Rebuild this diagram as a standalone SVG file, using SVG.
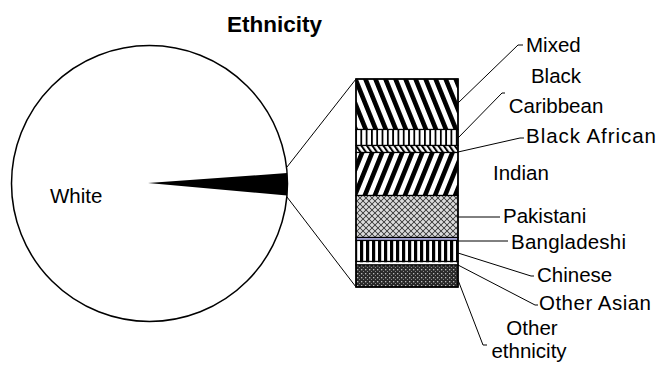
<svg xmlns="http://www.w3.org/2000/svg" width="660" height="367" viewBox="0 0 660 367">
<style>
text{font-family:"Liberation Sans",Arial,sans-serif;font-size:20.5px;fill:#000}
.title{font-weight:bold;font-size:22.5px}
.seg{stroke:#000;stroke-width:1.2}
.ld{fill:none;stroke:#000;stroke-width:1}
</style>
<defs>
<pattern id="pMixed" width="9.3" height="10" patternUnits="userSpaceOnUse" patternTransform="rotate(-22)">
<rect width="9.3" height="10" fill="#fff"/><rect x="0" width="4.6" height="10" fill="#000"/>
</pattern>
<pattern id="pIndian" width="9.3" height="10" patternUnits="userSpaceOnUse" patternTransform="rotate(22)">
<rect width="9.3" height="10" fill="#fff"/><rect x="0" width="4.6" height="10" fill="#000"/>
</pattern>
<pattern id="pBC" width="5.3" height="10" patternUnits="userSpaceOnUse">
<rect width="5.3" height="10" fill="#fff"/><rect x="0" width="1.8" height="10" fill="#000"/>
</pattern>
<pattern id="pBA" width="4.5" height="10" patternUnits="userSpaceOnUse" patternTransform="rotate(-35)">
<rect width="4.5" height="10" fill="#fff"/><rect x="0" width="2" height="10" fill="#000"/>
</pattern>
<pattern id="pPak" width="6" height="6" patternUnits="userSpaceOnUse">
<rect width="6" height="6" fill="#c0c0c0"/>
<path d="M0,0L6,6M6,0L0,6" stroke="#4a4a4a" stroke-width="1"/>
<circle cx="3" cy="0" r="0.8" fill="#fff"/><circle cx="0" cy="3" r="0.8" fill="#fff"/><circle cx="6" cy="3" r="0.8" fill="#fff"/><circle cx="3" cy="6" r="0.8" fill="#fff"/>
</pattern>
<pattern id="pChinese" width="6" height="10" patternUnits="userSpaceOnUse">
<rect width="6" height="10" fill="#fff"/><rect x="0" width="3.2" height="10" fill="#000"/>
</pattern>
<pattern id="pOA" width="6" height="4" patternUnits="userSpaceOnUse">
<rect width="6" height="4" fill="#fff"/><rect x="0" y="1" width="3" height="1.5" fill="#888"/>
</pattern>
<pattern id="pOther" width="4" height="4" patternUnits="userSpaceOnUse">
<rect width="4" height="4" fill="#2a2a2a"/><rect x="1" y="1" width="1.3" height="1.3" fill="#bbb"/><rect x="3" y="3" width="1" height="1" fill="#888"/>
</pattern>
</defs>
<rect width="660" height="367" fill="#fff"/>
<text class="title" x="274.5" y="32" text-anchor="middle">Ethnicity</text>

<g id="pie">
<circle cx="149.5" cy="183.5" r="138" fill="#fff" stroke="#000" stroke-width="1.5"/>
<path d="M148,183 L287.1,173 A138,138 0 0 1 287,195.5 Z" fill="#000"/>
<text x="50" y="203">White</text>
</g>

<g id="bar">
<rect id="mixed" class="seg" x="356" y="79" width="102" height="50.5" fill="url(#pMixed)"/>
<rect id="black-caribbean" class="seg" x="356" y="129.5" width="102" height="16" fill="url(#pBC)"/>
<rect id="black-african" class="seg" x="356" y="145.5" width="102" height="7" fill="url(#pBA)"/>
<rect id="indian" class="seg" x="356" y="152.5" width="102" height="43" fill="url(#pIndian)"/>
<rect id="pakistani" class="seg" x="356" y="195.5" width="102" height="42" fill="url(#pPak)"/>
<rect id="bangladeshi" class="seg" x="356" y="237.5" width="102" height="3" fill="#b4b4e8"/>
<rect id="chinese" class="seg" x="356" y="240.5" width="102" height="21" fill="url(#pChinese)"/>
<rect id="other-asian" class="seg" x="356" y="261.5" width="102" height="3.5" fill="url(#pOA)"/>
<rect id="other-ethnicity" class="seg" x="356" y="265" width="102" height="22" fill="url(#pOther)"/>
<rect x="356" y="79" width="102" height="208" fill="none" stroke="#000" stroke-width="1.5"/>
</g>

<g id="connectors">
<line class="ld" x1="287" y1="167" x2="356" y2="79"/>
<line class="ld" x1="287" y1="197" x2="356" y2="287"/>
<polyline class="ld" points="458,103 518,45 523,45"/>
<polyline class="ld" points="458,138 502,93 505,93"/>
<polyline class="ld" points="458,152 520,138 524,138"/>
<polyline class="ld" points="458,217 500,217"/>
<polyline class="ld" points="458,241 508,241"/>
<polyline class="ld" points="458,253 531,276 534,276"/>
<polyline class="ld" points="458,265 535,305 538,305"/>
<polyline class="ld" points="458,280 483,345 487,345"/>
</g>

<g id="labels">
<text x="526" y="52">Mixed</text>
<text x="556" y="83" text-anchor="middle">Black</text>
<text x="556" y="113" text-anchor="middle">Caribbean</text>
<text x="526" y="143" textLength="130" lengthAdjust="spacing">Black African</text>
<text x="493" y="180">Indian</text>
<text x="503" y="223">Pakistani</text>
<text x="511" y="249" textLength="115" lengthAdjust="spacing">Bangladeshi</text>
<text x="537" y="282">Chinese</text>
<text x="539" y="310" textLength="112" lengthAdjust="spacing">Other Asian</text>
<text x="532" y="335" text-anchor="middle">Other</text>
<text x="529" y="358" text-anchor="middle">ethnicity</text>
</g>
</svg>
